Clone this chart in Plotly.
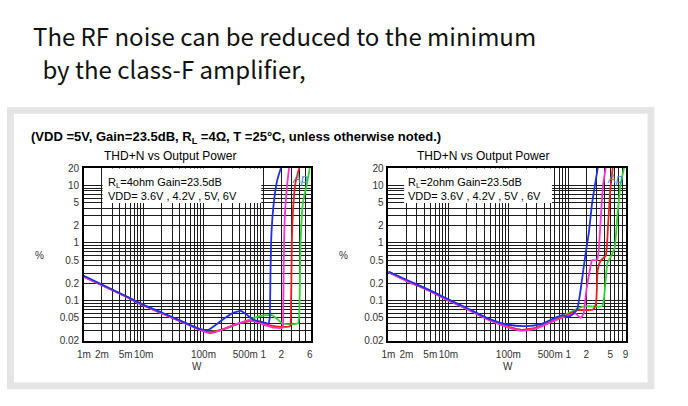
import plotly.graph_objects as go

# ---------------- data (W, %THD+N) ----------------
# Left chart: RL = 4 ohm
L_blue_x = [0.001, 0.002, 0.005, 0.01, 0.02, 0.05, 0.08, 0.12, 0.2, 0.3, 0.42, 0.55, 0.7, 1.0, 1.22, 1.28, 1.32, 1.37, 1.5, 1.7, 1.97]
L_blue_y = [0.27, 0.19, 0.12, 0.084, 0.062, 0.041, 0.033, 0.031, 0.045, 0.06, 0.066, 0.055, 0.046, 0.042, 0.04, 0.05, 0.3, 1.5, 5, 12, 20]
L_mag_x = [0.001, 0.002, 0.005, 0.01, 0.02, 0.05, 0.1, 0.13, 0.2, 0.35, 0.55, 0.8, 1.1, 1.5, 2.1, 2.15, 2.2, 2.3, 2.5, 2.7]
L_mag_y = [0.26, 0.185, 0.118, 0.082, 0.06, 0.04, 0.029, 0.027, 0.031, 0.039, 0.045, 0.042, 0.037, 0.034, 0.034, 0.05, 0.5, 3, 10, 20]
L_red_x = [0.001, 0.002, 0.005, 0.01, 0.02, 0.05, 0.13, 0.2, 0.4, 0.7, 1.0, 1.3, 2.0, 2.8, 2.9, 3.0, 3.2, 3.5, 4.0]
L_red_y = [0.26, 0.185, 0.118, 0.082, 0.06, 0.04, 0.028, 0.031, 0.04, 0.045, 0.041, 0.037, 0.035, 0.036, 0.06, 1, 5, 12, 20]
L_grn_x = [0.001, 0.002, 0.005, 0.01, 0.02, 0.05, 0.12, 0.2, 0.4, 0.7, 1.0, 1.4, 1.7, 2.1, 3.0, 3.8, 4.0, 4.2, 4.6, 5.3, 6.0]
L_grn_y = [0.26, 0.185, 0.118, 0.082, 0.06, 0.04, 0.029, 0.031, 0.04, 0.05, 0.055, 0.056, 0.048, 0.04, 0.039, 0.04, 0.06, 1, 5, 10, 20]

# Right chart: RL = 2 ohm
R_blue_x = [0.001, 0.002, 0.005, 0.01, 0.02, 0.05, 0.1, 0.2, 0.35, 0.6, 0.8, 1.0, 1.2, 1.4, 1.6, 1.75, 2.0, 2.2, 2.5, 3.1]
R_blue_y = [0.32, 0.23, 0.15, 0.105, 0.075, 0.047, 0.038, 0.036, 0.039, 0.05, 0.056, 0.052, 0.058, 0.07, 0.15, 0.3, 0.8, 1.5, 5, 20]
R_mag_x = [0.001, 0.002, 0.005, 0.01, 0.02, 0.05, 0.1, 0.17, 0.3, 0.6, 1.0, 1.3, 1.6, 1.8, 2.0, 2.3, 2.5, 3.0, 3.2, 3.5, 3.8, 4.2]
R_mag_y = [0.31, 0.22, 0.145, 0.1, 0.072, 0.045, 0.034, 0.03, 0.033, 0.045, 0.055, 0.06, 0.05, 0.06, 0.15, 0.35, 0.5, 0.5, 0.7, 3, 10, 20]
R_red_x = [0.001, 0.002, 0.005, 0.01, 0.02, 0.05, 0.1, 0.17, 0.3, 0.6, 1.0, 1.4, 2.6, 2.9, 3.1, 3.5, 4.2, 4.6, 5.0, 5.5]
R_red_y = [0.31, 0.22, 0.145, 0.1, 0.072, 0.045, 0.035, 0.031, 0.034, 0.046, 0.057, 0.068, 0.07, 0.09, 0.35, 0.5, 0.6, 2, 8, 20]
R_grn_x = [0.001, 0.002, 0.005, 0.01, 0.02, 0.05, 0.1, 0.17, 0.3, 0.6, 1.0, 1.4, 1.9, 3.7, 4.0, 4.5, 5.0, 5.9, 6.6, 7.4, 8.5]
R_grn_y = [0.32, 0.225, 0.148, 0.102, 0.073, 0.046, 0.035, 0.031, 0.034, 0.047, 0.06, 0.072, 0.08, 0.08, 0.13, 0.45, 0.55, 0.8, 3, 10, 20]

# tick labels
L_xtick_vals = [0.001, 0.002, 0.005, 0.01, 0.1, 0.5, 1, 2, 6]
L_xtick_text = ["1m", "2m", "5m", "10m", "100m", "500m", "1", "2", "6"]
R_xtick_vals = [0.001, 0.002, 0.005, 0.01, 0.1, 0.5, 1, 2, 5, 9]
R_xtick_text = ["1m", "2m", "5m", "10m", "100m", "500m", "1", "2", "5", "9"]
ytick_vals = [0.02, 0.05, 0.1, 0.2, 0.5, 1, 2, 5, 10, 20]
ytick_text = ["0.02", "0.05", "0.1", "0.2", "0.5", "1", "2", "5", "10", "20"]

BLUE, MAG, RED, GRN = "#1f2fe6", "#ff2fd0", "#ee1c1c", "#2ad82a"

W, H = 688, 406
def px(x): return x / W
def py(y): return 1 - y / H

fig = go.Figure()

def add(x, y, c, ax):
    fig.add_trace(go.Scatter(x=x, y=y, mode="lines", line=dict(color=c, width=1.8, shape="spline", smoothing=0.5),
                             xaxis="x" + ax, yaxis="y" + ax, showlegend=False, hoverinfo="skip"))

for xs, ys, c in [(L_grn_x, L_grn_y, GRN), (L_red_x, L_red_y, RED), (L_mag_x, L_mag_y, MAG), (L_blue_x, L_blue_y, BLUE)]:
    add(xs, ys, c, "")
for xs, ys, c in [(R_grn_x, R_grn_y, GRN), (R_red_x, R_red_y, RED), (R_mag_x, R_mag_y, MAG), (R_blue_x, R_blue_y, BLUE)]:
    add(xs, ys, c, "2")

minor_x = [m * 10 ** e for e in range(-3, 2) for m in range(1, 10)]
minor_y = [m * 10 ** e for e in range(-2, 2) for m in range(1, 10)]

GRID = "#1c1c1c"
TICKFONT = dict(family="Arial", size=10, color="#333")

def xaxis(domain, tv, tt, rng, anchor):
    return dict(type="log", domain=domain, range=rng, tickvals=tv, ticktext=tt, tickangle=0, showgrid=True,
                gridcolor=GRID, gridwidth=1, minor=dict(tickvals=minor_x, showgrid=True, gridcolor=GRID, gridwidth=1, ticklen=0),
                showline=True, linecolor="black", linewidth=1.5, mirror=True, ticks="", anchor=anchor,
                tickfont=TICKFONT, ticklabelstandoff=3, zeroline=False)

def yaxis(domain, anchor):
    return dict(type="log", domain=domain, range=[-1.699, 1.301], tickvals=ytick_vals, ticktext=ytick_text,
                showgrid=True, gridcolor=GRID, gridwidth=1,
                minor=dict(tickvals=minor_y, showgrid=True, gridcolor=GRID, gridwidth=1, ticklen=0),
                showline=True, linecolor="black", linewidth=1.5, mirror=True, ticks="", anchor=anchor,
                tickfont=TICKFONT, ticklabelstandoff=1, zeroline=False)

ydom = [py(345), py(167)]
fig.update_layout(
    width=W, height=H, margin=dict(l=0, r=0, t=0, b=0),
    paper_bgcolor="white", plot_bgcolor="white",
    xaxis=xaxis([px(78), px(308)], L_xtick_vals, L_xtick_text, [-3, 0.79], "y"),
    yaxis=yaxis(ydom, "x"),
    xaxis2=xaxis([px(387), px(628)], R_xtick_vals, R_xtick_text, [-3, 0.96], "y2"),
    yaxis2=yaxis(ydom, "x2"),
)

shapes = [
    dict(type="rect", xref="paper", yref="paper", x0=px(0), x1=px(657), y0=py(395), y1=py(104),
         fillcolor="#e5e5e5", line=dict(width=0), layer="below"),
    dict(type="rect", xref="paper", yref="paper", x0=px(7), x1=px(650), y0=py(388), y1=py(111),
         fillcolor="white", line=dict(width=0), layer="below"),
    # legend boxes
    dict(type="rect", xref="paper", yref="paper", x0=px(97), x1=px(258), y0=py(203), y1=py(167.5),
         fillcolor="white", line=dict(width=0), layer="above"),
    dict(type="rect", xref="paper", yref="paper", x0=px(403), x1=px(553), y0=py(203), y1=py(167.5),
         fillcolor="white", line=dict(width=0), layer="above"),
]
fig.update_layout(shapes=shapes)

ann = []
def text(x, y, t, size, xanchor="left", family="Arial", color="black", **kw):
    ann.append(dict(xref="paper", yref="paper", x=px(x), y=py(y), text=t, showarrow=False,
                    xanchor=xanchor, yanchor="middle", font=dict(family=family, size=size, color=color), **kw))

text(24, 30, "The RF noise can be reduced to the minimum", 24, family="Noto Sans CJK SC", color="#111")
text(28, 64, " by the class-F amplifier,", 24, family="Noto Sans CJK SC", color="#111")
text(22, 135, "<b>(VDD =5V, Gain=23.5dB, R<sub>L</sub> =4Ω, T =25°C, unless otherwise noted.)</b>", 13)
text(165, 155, "THD+N vs Output Power", 12, xanchor="center")
text(483, 155, "THD+N vs Output Power", 12, xanchor="center")
text(100, 182, "R<sub>L</sub>=4ohm Gain=23.5dB", 11)
text(100, 195.5, "VDD= 3.6V , 4.2V , 5V, 6V", 11)
text(405, 182, "R<sub>L</sub>=2ohm Gain=23.5dB", 11)
text(405, 195.5, "VDD= 3.6V , 4.2V , 5V , 6V", 11)
text(33, 257, "%", 10, xanchor="center", color="#333")
text(341, 257, "%", 10, xanchor="center", color="#333")
text(193, 371, "W", 10, xanchor="center", color="#333")
text(508, 371, "W", 10, xanchor="center", color="#333")
text(297, 178, "<i>Ap</i>", 12, xanchor="center", color="#3a8fd0")
text(617, 178, "<i>Ap</i>", 12, xanchor="center", color="#3a8fd0")
fig.update_layout(annotations=ann)

fig.write_html("out.html")
